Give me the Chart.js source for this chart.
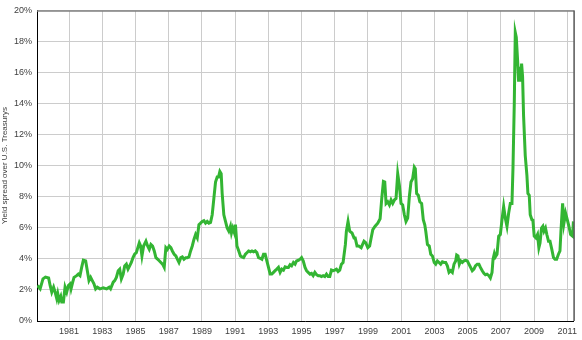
<!DOCTYPE html>
<html>
<head>
<meta charset="utf-8">
<script src="https://cdn.jsdelivr.net/npm/chart.js@4.4.0/dist/chart.umd.min.js"></script>
<style>
    html, body { margin: 0; padding: 0; background: #ffffff; }
</style>
</head>
<body>
<canvas id="spreadChart" width="582" height="340"></canvas>
<script>
/* ========================================
   Yield spread over U.S. Treasurys, 1979-2011
   ======================================== */

// Decimal year of each reading
const years = [
    1979.10, 1979.26, 1979.43, 1979.58, 1979.77, 1979.86, 1979.96, 1980.07, 1980.16, 1980.26,
    1980.32, 1980.40, 1980.50, 1980.56, 1980.66, 1980.76, 1980.86, 1980.96, 1981.06, 1981.12,
    1981.22, 1981.30, 1981.46, 1981.56, 1981.66, 1981.76, 1981.86, 1982.00, 1982.10, 1982.20,
    1982.30, 1982.40, 1982.50, 1982.60, 1982.70, 1982.86, 1983.06, 1983.26, 1983.42, 1983.50,
    1983.66, 1983.75, 1983.85, 1983.96, 1984.05, 1984.15, 1984.26, 1984.35, 1984.45, 1984.55,
    1984.65, 1984.75, 1984.85, 1984.95, 1985.05, 1985.23, 1985.31, 1985.39, 1985.49, 1985.63,
    1985.73, 1985.83, 1985.93, 1986.03, 1986.13, 1986.23, 1986.33, 1986.43, 1986.53, 1986.63,
    1986.73, 1986.83, 1986.92, 1987.03, 1987.13, 1987.22, 1987.33, 1987.43, 1987.52, 1987.62,
    1987.73, 1987.82, 1987.92, 1988.03, 1988.12, 1988.22, 1988.32, 1988.42, 1988.52, 1988.62,
    1988.72, 1988.82, 1988.92, 1989.02, 1989.12, 1989.22, 1989.32, 1989.42, 1989.52, 1989.62,
    1989.72, 1989.82, 1989.92, 1990.00, 1990.08, 1990.16, 1990.22, 1990.32, 1990.42, 1990.52,
    1990.62, 1990.72, 1990.78, 1990.86, 1990.96, 1991.02, 1991.11, 1991.22, 1991.32, 1991.41,
    1991.51, 1991.62, 1991.71, 1991.81, 1991.92, 1992.01, 1992.11, 1992.21, 1992.31, 1992.41,
    1992.51, 1992.61, 1992.71, 1992.81, 1992.91, 1993.01, 1993.11, 1993.21, 1993.31, 1993.41,
    1993.51, 1993.61, 1993.71, 1993.81, 1993.91, 1994.01, 1994.11, 1994.21, 1994.31, 1994.40,
    1994.51, 1994.61, 1994.70, 1994.81, 1994.91, 1995.00, 1995.10, 1995.21, 1995.30, 1995.40,
    1995.51, 1995.60, 1995.70, 1995.80, 1995.90, 1996.00, 1996.10, 1996.20, 1996.30, 1996.40,
    1996.50, 1996.60, 1996.70, 1996.80, 1996.90, 1997.00, 1997.10, 1997.20, 1997.30, 1997.40,
    1997.50, 1997.64, 1997.70, 1997.80, 1997.90, 1998.04, 1998.16, 1998.23, 1998.34, 1998.44,
    1998.59, 1998.76, 1998.86, 1998.99, 1999.10, 1999.19, 1999.29, 1999.43, 1999.59, 1999.73,
    1999.83, 1999.93, 2000.01, 2000.09, 2000.19, 2000.29, 2000.39, 2000.49, 2000.59, 2000.69,
    2000.79, 2000.89, 2000.99, 2001.09, 2001.19, 2001.29, 2001.39, 2001.49, 2001.59, 2001.69,
    2001.79, 2001.85, 2001.93, 2002.03, 2002.12, 2002.23, 2002.33, 2002.42, 2002.48, 2002.58,
    2002.69, 2002.78, 2002.88, 2002.99, 2003.08, 2003.18, 2003.28, 2003.38, 2003.48, 2003.58,
    2003.68, 2003.78, 2003.88, 2003.98, 2004.08, 2004.18, 2004.28, 2004.34, 2004.42, 2004.50,
    2004.58, 2004.68, 2004.78, 2004.88, 2004.98, 2005.08, 2005.18, 2005.28, 2005.38, 2005.47,
    2005.58, 2005.68, 2005.77, 2005.88, 2005.98, 2006.07, 2006.17, 2006.28, 2006.37, 2006.47,
    2006.53, 2006.61, 2006.67, 2006.77, 2006.87, 2006.97, 2007.07, 2007.17, 2007.27, 2007.37,
    2007.47, 2007.57, 2007.67, 2007.73, 2007.81, 2007.87, 2007.93, 2008.01, 2008.07, 2008.13,
    2008.19, 2008.25, 2008.31, 2008.37, 2008.47, 2008.57, 2008.63, 2008.71, 2008.77, 2008.87,
    2008.93, 2009.01, 2009.11, 2009.21, 2009.29, 2009.36, 2009.45, 2009.53, 2009.60, 2009.69,
    2009.77, 2009.87, 2009.96, 2010.07, 2010.17, 2010.26, 2010.36, 2010.47, 2010.56, 2010.62,
    2010.72, 2010.80, 2010.90, 2011.00, 2011.10, 2011.20, 2011.32, 2011.37
];

// Spread in percentage points
const spread = [
    2.29, 2.07, 2.71, 2.83, 2.77, 2.29, 1.86, 2.18, 1.86, 1.44,
    1.76, 1.33, 1.59, 1.23, 1.23, 2.18, 1.86, 2.29, 2.39, 2.07,
    2.50, 2.81, 2.92, 3.02, 2.92, 3.45, 3.92, 3.87, 3.24, 2.60,
    2.81, 2.60, 2.39, 2.07, 2.18, 2.07, 2.13, 2.07, 2.18, 2.07,
    2.50, 2.60, 2.81, 3.24, 3.34, 2.71, 3.02, 3.55, 3.66, 3.34,
    3.55, 3.77, 4.08, 4.30, 4.40, 5.03, 4.83, 4.19, 4.83, 5.14,
    4.83, 4.61, 4.93, 4.83, 4.51, 4.08, 3.98, 3.88, 3.77, 3.66,
    3.45, 4.72, 4.61, 4.83, 4.72, 4.51, 4.30, 4.19, 3.98, 3.77,
    4.08, 4.13, 3.98, 4.08, 4.08, 4.13, 4.51, 4.83, 5.25, 5.57,
    5.35, 6.20, 6.30, 6.41, 6.46, 6.30, 6.41, 6.30, 6.35, 6.84,
    7.89, 8.95, 9.27, 9.27, 9.63, 9.48, 8.21, 6.84, 6.41, 5.99,
    5.78, 6.10, 5.67, 5.99, 5.67, 6.20, 4.83, 4.51, 4.19, 4.13,
    4.08, 4.30, 4.40, 4.51, 4.46, 4.51, 4.45, 4.51, 4.40, 4.08,
    4.04, 3.98, 4.30, 4.30, 3.87, 3.45, 3.02, 3.02, 3.13, 3.24,
    3.34, 3.45, 3.13, 3.34, 3.28, 3.49, 3.45, 3.45, 3.62, 3.55,
    3.77, 3.66, 3.87, 3.91, 3.98, 4.08, 3.87, 3.45, 3.24, 3.13,
    3.02, 3.07, 2.92, 3.13, 2.98, 2.92, 2.92, 2.86, 2.92, 2.86,
    3.02, 2.86, 2.86, 3.28, 3.24, 3.28, 3.34, 3.19, 3.28, 3.66,
    3.77, 4.93, 5.78, 6.41, 5.78, 5.67, 5.35, 5.35, 4.83, 4.83,
    4.72, 5.14, 5.04, 4.72, 4.83, 5.35, 5.88, 6.10, 6.30, 6.58,
    7.89, 8.99, 8.95, 7.57, 7.68, 7.47, 7.79, 7.57, 7.79, 7.89,
    9.48, 8.74, 7.57, 7.47, 6.84, 6.41, 6.62, 8.00, 8.95, 9.16,
    9.90, 9.80, 8.21, 8.10, 7.68, 7.57, 6.52, 6.20, 5.78, 4.93,
    4.83, 4.30, 4.19, 3.77, 3.66, 3.87, 3.77, 3.66, 3.81, 3.77,
    3.77, 3.55, 3.13, 3.24, 3.13, 3.66, 3.87, 4.25, 4.19, 3.66,
    3.87, 3.77, 3.87, 3.91, 3.87, 3.66, 3.45, 3.24, 3.34, 3.55,
    3.66, 3.66, 3.45, 3.24, 3.07, 2.98, 3.02, 2.92, 2.77, 3.13,
    3.98, 4.34, 4.13, 4.30, 5.46, 5.57, 6.52, 7.37, 6.62, 6.10,
    6.94, 7.57, 7.57, 9.80, 14.03, 18.58, 18.27, 16.78, 15.41, 16.36,
    15.41, 16.57, 15.72, 13.19, 10.65, 9.38, 8.21, 8.10, 6.84, 6.52,
    6.50, 5.46, 5.35, 5.57, 4.72, 5.03, 5.99, 6.10, 5.78, 5.99,
    5.57, 5.14, 5.14, 4.61, 4.08, 3.98, 3.98, 4.30, 4.51, 5.78,
    7.57, 6.30, 6.94, 6.52, 6.10, 5.57, 5.46, 6.41
];

// Tick labels
const yearTicks = [1981, 1983, 1985, 1987, 1989, 1991, 1993, 1995, 1997, 1999, 2001, 2003, 2005, 2007, 2009, 2011];
const percentTicks = [0, 2, 4, 6, 8, 10, 12, 14, 16, 18, 20];

const yAxisTitle = 'Yield spread over U.S. Treasurys';

Chart.defaults.font.family = "'Liberation Sans Narrow', 'Liberation Sans', Arial, sans-serif";
Chart.defaults.color = '#404040';

// Top and right edges of the plot frame
const frameEdges = {
    id: 'frameEdges',
    afterDraw(chart) {
        const { ctx, chartArea } = chart;
        ctx.save();
        ctx.strokeStyle = '#808080';
        ctx.lineWidth = 1.5;
        ctx.beginPath();
        ctx.moveTo(chartArea.left, chartArea.top + 0.5);
        ctx.lineTo(chartArea.right, chartArea.top + 0.5);
        ctx.stroke();
        ctx.strokeStyle = '#000000';
        ctx.lineWidth = 1;
        ctx.beginPath();
        ctx.moveTo(chartArea.right + 0.5, chartArea.top);
        ctx.lineTo(chartArea.right + 0.5, chartArea.bottom);
        ctx.stroke();
        ctx.restore();
    }
};

const ctx = document.getElementById('spreadChart').getContext('2d');

new Chart(ctx, {
    type: 'line',
    data: {
        datasets: [{
            label: 'Yield spread',
            data: years.map((yr, i) => ({ x: yr, y: spread[i] })),
            borderColor: '#33b533',
            borderWidth: 3,
            pointRadius: 0,
            tension: 0,
            fill: false
        }]
    },
    options: {
        responsive: false,
        animation: false,
        layout: {
            padding: { top: 6, right: 5, left: 0, bottom: 0 }
        },
        plugins: {
            legend: { display: false },
            tooltip: { enabled: false }
        },
        scales: {
            x: {
                type: 'linear',
                min: 1979.07,
                max: 2011.38,
                afterBuildTicks: scale => {
                    scale.ticks = yearTicks.map(v => ({ value: v }));
                },
                afterFit: scale => { scale.height = 19; },
                grid: {
                    color: '#cccccc',
                    lineWidth: 1,
                    drawTicks: false
                },
                border: { color: '#000000', width: 1 },
                ticks: {
                    padding: 5,
                    maxRotation: 0,
                    autoSkip: false,
                    font: { size: 9 },
                    callback: value => String(value)
                }
            },
            y: {
                min: 0,
                max: 20,
                afterBuildTicks: scale => {
                    scale.ticks = percentTicks.map(v => ({ value: v }));
                },
                afterFit: scale => { scale.width = 37; },
                grid: {
                    color: '#cccccc',
                    lineWidth: 1,
                    drawTicks: false
                },
                border: { color: '#000000', width: 1 },
                ticks: {
                    padding: 5,
                    font: { size: 9 },
                    callback: value => value + '%'
                },
                title: {
                    display: true,
                    text: yAxisTitle,
                    font: { size: 8 },
                    color: '#404040',
                    padding: { top: 0, bottom: 0 }
                }
            }
        }
    },
    plugins: [frameEdges]
});
</script>
</body>
</html>
